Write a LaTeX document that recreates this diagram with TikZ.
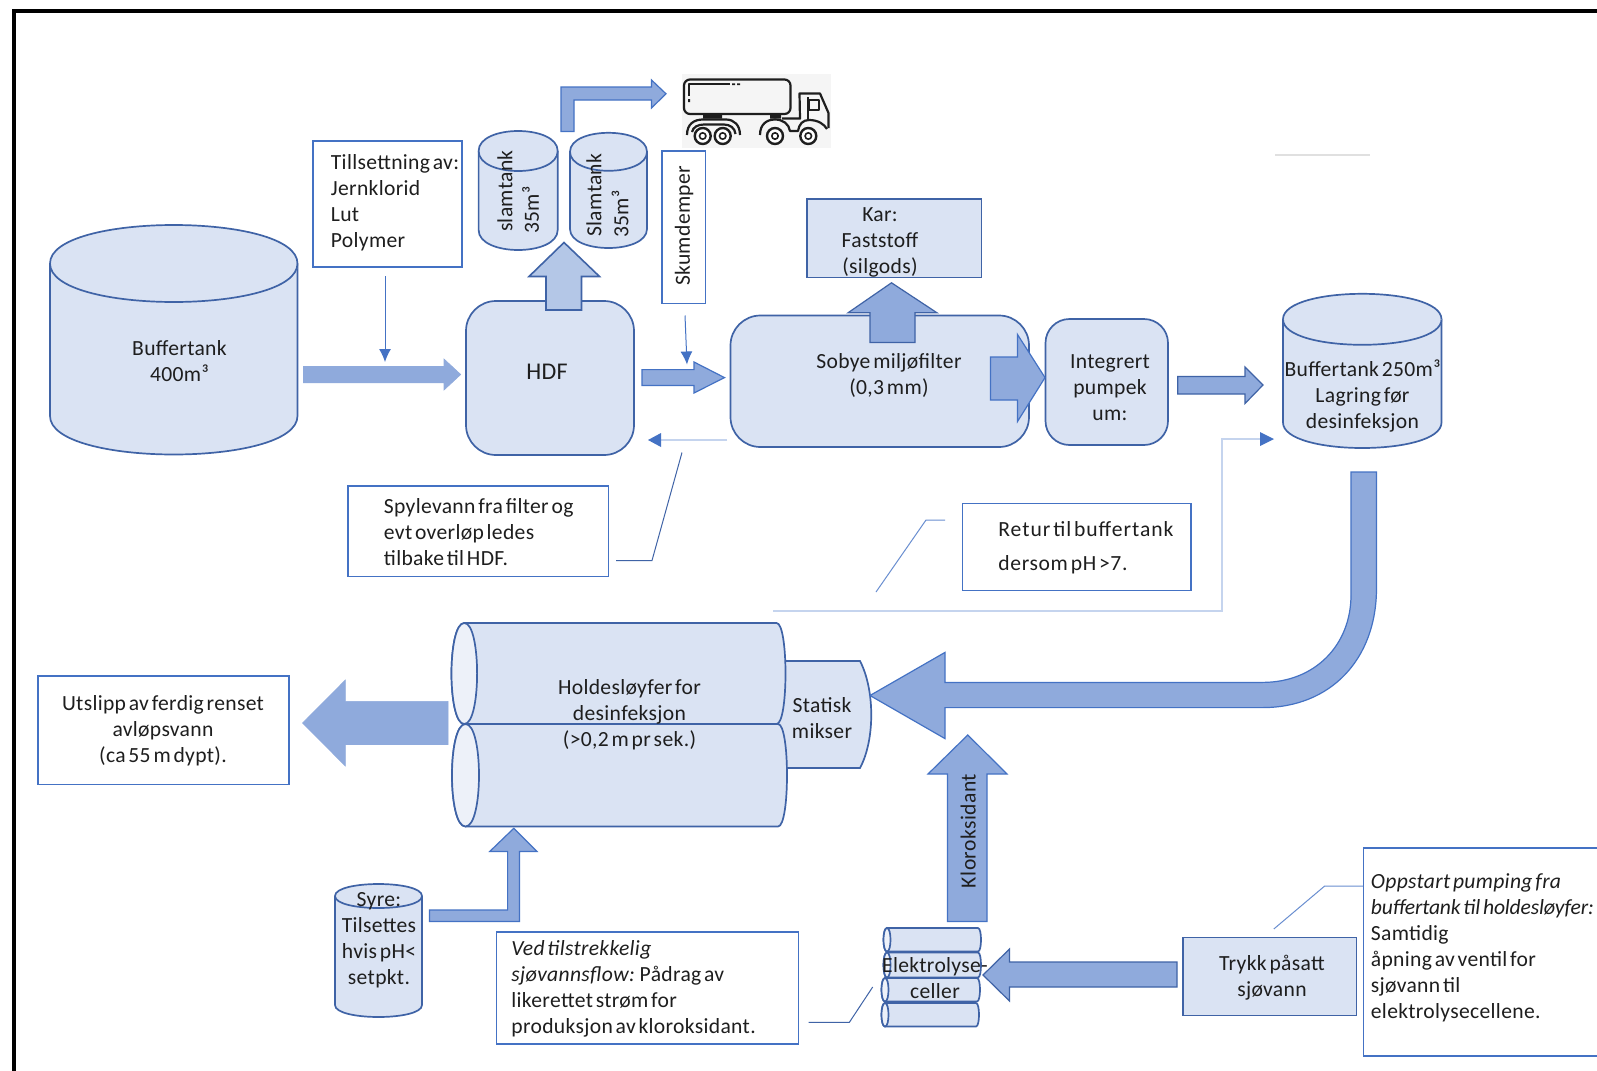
\documentclass[tikz,border=0pt]{standalone}
\usepackage{fontspec}
\setmainfont[LetterSpace=1.5]{Carlito}
\usetikzlibrary{arrows.meta}
\definecolor{boxfill}{HTML}{DAE3F3}
\definecolor{capfill}{HTML}{EDF1F9}
\definecolor{edgeblue}{HTML}{3F63A6}
\definecolor{linkblue}{HTML}{4472C4}
\definecolor{paleblue}{HTML}{C5D4EE}
\definecolor{arrowfill}{HTML}{8FAADC}
\definecolor{arrowlight}{HTML}{B4C7E7}
\definecolor{inkc}{HTML}{1E1E1E}
\newcommand{\fs}{\fontsize{10.8}{13}\selectfont\spaceskip=0.13em\relax}
\newcommand{\pbox}[6]{%
  \pgfmathsetmacro\pw{(#5-#3)*0.5}\pgfmathsetmacro\ph{(#6-#4)*0.5}%
  \pgfmathsetmacro\pcx{(#3+#5)/2}\pgfmathsetmacro\pcy{(#4+#6)/2}%
  \node[#1,minimum width=\pw pt,minimum height=\ph pt,inner sep=0pt] (#2) at (\pcx,\pcy) {};}
% name, x1, x2, ytop, ybot, ry
\newcommand{\vcyl}[6]{%
  \pgfmathsetmacro\ca{#4+#6}\pgfmathsetmacro\cb{#5-#6}%
  \pgfmathsetmacro\cc{#4+#6*7/3}\pgfmathsetmacro\cd{#4-#6/3}\pgfmathsetmacro\ce{#5+#6/3}%
  \pgfmathsetmacro\cx{(#2+#3)/2}%
  \draw[shapeline] (#2,\ca) -- (#2,\cb) .. controls (#2,\ce) and (#3,\ce) .. (#3,\cb) -- (#3,\ca)
     .. controls (#3,\cd) and (#2,\cd) .. (#2,\ca) -- cycle;
  \draw[shapeline] (#2,\ca) .. controls (#2,\cc) and (#3,\cc) .. (#3,\ca);
  \coordinate (#1) at (\cx,\ca);}
% name, xcentre-left, xright, ytop, ybot, rx-left, rx-right
\newcommand{\hcyl}[7]{%
  \pgfmathsetmacro\ha{#2-#6*4/3}\pgfmathsetmacro\hb{#2+#6*4/3}\pgfmathsetmacro\hc{#3+#7*4/3}%
  \pgfmathsetmacro\hy{(#4+#5)/2}%
  \draw[shapeline] (#2,#4) -- (#3,#4) .. controls (\hc,#4) and (\hc,#5) .. (#3,#5) -- (#2,#5)
     .. controls (\ha,#5) and (\ha,#4) .. (#2,#4) -- cycle;
  \draw[shapeline,fill=capfill] (#2,#4) .. controls (\hb,#4) and (\hb,#5) .. (#2,#5)
     .. controls (\ha,#5) and (\ha,#4) .. (#2,#4) -- cycle;
  \coordinate (#1) at (#3,\hy);}
\tikzset{
  x=0.5pt,y=-0.5pt,
  shapeline/.style={draw=edgeblue,fill=boxfill,line width=0.85pt},
  roundbox/.style={shapeline,rounded corners=15pt},
  plainbox/.style={shapeline},
  notebox/.style={draw=linkblue,fill=white,line width=0.85pt},
  blockarrow/.style={draw=linkblue,fill=arrowfill,line width=0.6pt},
  softarrow/.style={draw=arrowfill,fill=arrowfill,line width=0.3pt},
  lightarrow/.style={draw=edgeblue,fill=arrowlight,line width=0.8pt},
  txt/.style={inner sep=0pt,font=\fs,align=center,text=inkc},
  txtl/.style={inner sep=0pt,font=\fs,align=left,anchor=west,text=inkc},
  thinlink/.style={draw=linkblue,line width=0.5pt,-{Latex[length=6.5pt,width=6pt]}},
  palelink/.style={draw=paleblue,line width=1pt},
  leader/.style={draw=edgeblue,line width=0.5pt},
  truckline/.style={draw=inkc,line width=1.1pt,fill=none,line join=round},
}
\begin{document}
\begin{tikzpicture}
\useasboundingbox (0,0) rectangle (1597,1071);
\clip (0,0) rectangle (1597,1071);
\fill[white] (0,0) rectangle (1597,1071);
\draw[black,line width=2pt] (14,1075) -- (14,11) -- (1601,11);
\draw[draw=black!12,line width=0.7pt] (1275,155) -- (1370,155);

% --- tanks and boxes
\vcyl{tankA}{50}{297.5}{225}{454.5}{38.5}
\node[txt] (tankAt) at (179.5,361.5) {Buffertank\\400m³};

\pbox{notebox}{dose}{313}{141}{462}{267}
\node[txtl] (doset) at (330.5,202.5) {Tillsettning av:\\Jernklorid\\Lut\\Polymer};

\pbox{roundbox}{hdf}{466}{301}{634}{455}
\node[txt,font=\fontsize{12}{14}\selectfont] (hdft) at (547,372) {HDF};

\vcyl{slamA}{478.6}{557.7}{131}{250}{20}
\node[txt,rotate=90] (slamAt) at (505,191) {slamtank};
\node[txt,rotate=90] (slamAu) at (530.5,210) {35m³};
\vcyl{slamB}{570}{647}{132.8}{248}{19}
\node[txt,rotate=90] (slamBt) at (594,195) {Slamtank};
\node[txt,rotate=90] (slamBu) at (620,214) {35m³};

\pbox{notebox}{skum}{662}{151}{705.5}{303.5}
\node[txt,rotate=90] (skumt) at (684,226) {Skumdemper};

\pbox{roundbox}{filter}{730.5}{315.5}{1029}{447}
\node[txt] (filtert) at (889,375) {Sobye miljøfilter\\(0,3 mm)};

\pbox{plainbox}{kar}{807}{199}{981.5}{277.5}
\node[txt] (kart) at (880,242) {Kar:\\Faststoff\\(silgods)};

\pbox{roundbox,rounded corners=12pt}{pump}{1045.5}{319}{1168}{445}
\node[txt] (pumpt) at (1110,388) {Integrert\\pumpek\\um:};

\vcyl{tankB}{1283}{1441.5}{293.8}{448}{25.5}
\node[txt] (tankBt) at (1362.5,396) {Buffertank 250m³\\Lagring før\\desinfeksjon};

\pbox{notebox}{spyle}{348}{486}{608.5}{576.5}
\node[txtl] (spylet) at (383.5,532) {Spylevann fra filter og\\evt overløp ledes\\tilbake til HDF.};

\pbox{notebox}{retur}{962.5}{503.5}{1191}{590.5}
\node[txtl,font=\fs\addfontfeature{LetterSpace=4.6}] (returt) at (998,529) {Retur til buffertank};
\node[txtl,font=\fs\addfontfeature{LetterSpace=3}] (returu) at (998,564.5) {dersom pH >7.};

\pbox{notebox}{utslipp}{38}{676}{289}{784.5}
\node[txt] (utslippt) at (163,731) {Utslipp av ferdig renset\\avløpsvann\\(ca 55 m dypt).};

\draw[shapeline] (770,661) -- (860,661) .. controls (875,690) and (875,740) .. (860,768) -- (770,768) -- cycle;
\coordinate (mikser) at (871,715);
\hcyl{holdB}{465.5}{778}{724}{826.5}{13.5}{9}
\hcyl{holdA}{464.3}{776.5}{623}{724}{12.8}{9}
\node[txt] (holdt) at (629.5,715) {Holdesløyfer for\\desinfeksjon\\(>0,2 m pr sek.)};
\node[txt] (miksert) at (822,718) {Statisk\\mikser};

\vcyl{syre}{335}{422}{884}{1017}{12}
\node[txt] (syret) at (379,940) {Syre:\\Tilsettes\\hvis pH<\\setpkt.};

\pbox{notebox}{ved}{496.5}{932}{798.5}{1044}
\node[txtl] (vedt) at (511,989) {\textit{Ved tilstrekkelig}\\\textit{sjøvannsflow:} Pådrag av\\likerettet strøm for\\produksjon av kloroksidant.};

\hcyl{cellA}{887}{978}{928}{951.5}{3.5}{3}
\hcyl{cellB}{887}{978}{952.5}{977.5}{3.5}{3}
\hcyl{cellC}{885}{977}{978}{1001.5}{3.5}{3}
\hcyl{cellD}{885}{976}{1003}{1026.5}{3.5}{3}
\node[txt] (cellt) at (935,978) {Elektrolyse-\\celler};

\pbox{plainbox}{trykk}{1183}{937.5}{1356.5}{1015.5}
\node[txt] (trykkt) at (1272,978) {Trykk påsatt\\sjøvann};

\pbox{notebox}{opp}{1363.5}{848}{1640}{1056}
\node[txtl] (oppt) at (1370.5,947.5) {\textit{Oppstart pumping fra}\\{\addfontfeature{LetterSpace=-0.8}\textit{buffertank til holdesløyfer:}}\\Samtidig\\åpning av ventil for\\sjøvann til\\elektrolysecellene.};

% --- truck
\fill[black!4] (682,74) rectangle (830.5,148);
\draw[truckline,rounded corners=3pt] (684,79.5) rectangle (790.5,114);
\draw[truckline,line width=0.8pt] (689,96) -- (689,84) -- (730,84);
\fill[inkc] (732,83.3) rectangle (735,85) (737,83.3) rectangle (740,85) (688,99) rectangle (690,102);
\fill[inkc] (703,114) rectangle (722,118.5) (770,114) rectangle (781,118.5);
\draw[truckline] (782,118.5) -- (800,118.5) -- (799.5,93.5) -- (820,93.5) -- (828.5,113) -- (828.5,128);
\draw[truckline,line width=0.8pt] (809,100) rectangle (819,110);
\draw[truckline,line width=0.8pt] (808,97) -- (808,120);
\draw[truckline] (687,135) .. controls (687,124) and (694,119.5) .. (703,119.5) -- (726,119.5) .. controls (734,119.5) and (740,125) .. (740,135);
\draw[truckline] (692,132) .. controls (693,127) and (698,124.5) .. (704,124.5) -- (724,124.5) .. controls (730,124.5) and (735,128) .. (735.5,134);
\draw[truckline] (760,135) .. controls (760,124) and (767,119.5) .. (775,119.5) .. controls (783,119.5) and (789,124) .. (790,131) -- (798,131) .. controls (799,124) and (803,120) .. (809,120) .. controls (818,120) and (824,124) .. (827,129);
\foreach \wn/\wx in {wa/702.7,wb/722.7,wc/775,wd/808.3}{
  \draw[draw=inkc,fill=white,line width=1.2pt] (\wx,136) circle[radius=4pt];
  \draw[draw=inkc,line width=0.8pt] (\wx,136) circle[radius=1.6pt];
}

% --- block arrows
\draw[softarrow] (303.5,366.5) -- (444,366.5) -- (444,359) -- (460.7,374.5) -- (444,390) -- (444,382.8) -- (303.5,382.8) -- cycle;
\draw[lightarrow] (546,310) -- (546,276.5) -- (529,276.5) -- (564,242.5) -- (599.5,276.5) -- (581.5,276.5) -- (581.5,310) -- cycle;
\draw[blockarrow] (561,131.5) -- (561,87) -- (651.5,87) -- (651.5,80) -- (666,93.8) -- (651.5,108) -- (651.5,100) -- (574,100) -- (574,131.5) -- cycle;
\draw[blockarrow] (642,369.6) -- (694,369.6) -- (694,362) -- (724.5,377.6) -- (694,393) -- (694,385.5) -- (642,385.5) -- cycle;
\draw[blockarrow,draw=edgeblue] (870,342.4) -- (870,312.8) -- (848,312.8) -- (891.5,282.8) -- (937,312.8) -- (915,312.8) -- (915,342.4) -- cycle;
\draw[blockarrow] (990.5,357) -- (1017.5,357) -- (1017.5,334.5) -- (1045,377.6) -- (1017.5,421.5) -- (1017.5,400) -- (990.5,400) -- cycle;
\draw[blockarrow,draw=edgeblue] (1177.7,376.5) -- (1245,376.5) -- (1245,367) -- (1263,385) -- (1245,403.5) -- (1245,394) -- (1177.7,394) -- cycle;
\draw[blockarrow] (1351,472) -- (1376.5,472) -- (1376.5,588) .. controls (1376.5,660) and (1330,707.6) .. (1262.6,707.6) -- (945,707.6) -- (945,738.6) -- (870,695.5) -- (945,652.4) -- (945,682.4) -- (1262.6,682.4) .. controls (1315,682.4) and (1351,645) .. (1351,595) -- cycle;
\draw[softarrow] (448,701.4) -- (345.4,701.4) -- (345.4,680) -- (302.5,723) -- (345.4,766) -- (345.4,744.5) -- (448,744.5) -- cycle;
\draw[blockarrow] (947.5,921.5) -- (947.5,774) -- (928,774) -- (967.8,735) -- (1007,774) -- (987,774) -- (987,921.5) -- cycle;
\draw[blockarrow,draw=edgeblue] (1177,962) -- (1009.5,962) -- (1009.5,949) -- (983,975) -- (1009.5,1001) -- (1009.5,987) -- (1177,987) -- cycle;
\draw[blockarrow] (429.5,910) -- (507.6,910) -- (507.6,851.4) -- (489.8,851.4) -- (513.8,828.3) -- (537,851.4) -- (519.4,851.4) -- (519.4,921.4) -- (429.5,921.4) -- cycle;
\node[txt,rotate=90,font=\fs\addfontfeature{LetterSpace=2}] (klort) at (968.3,831) {Kloroksidant};

% --- thin connectors
\coordinate (doseOut) at (385,276);
\coordinate (doseIn) at (385,362);
\draw[thinlink] (doseOut) -- (doseIn);
\coordinate (skumOut) at (685,315.5);
\coordinate (skumIn) at (687,364.5);
\draw[thinlink] (skumOut) -- (skumIn);
\coordinate (backA) at (727,440);
\coordinate (backB) at (648,440);
\draw[palelink] (backA) -- (661,440);
\fill[linkblue] (backB) -- (661,433) -- (661,447) -- cycle;
\coordinate (retA) at (773,611);
\coordinate (retB) at (1222,611);
\coordinate (retC) at (1222,439);
\coordinate (retD) at (1274,439);
\draw[palelink] (retA) -- (retB) -- (retC) -- (1262,439);
\fill[linkblue] (retD) -- (1260,432) -- (1260,446) -- cycle;

% --- leader lines
\coordinate (la) at (682,452.5);
\coordinate (lb) at (652,560.5);
\coordinate (lc) at (616,560.5);
\draw[leader] (la) -- (lb) -- (lc);
\coordinate (ld) at (945,520);
\coordinate (le) at (926,520);
\coordinate (lf) at (876,592);
\draw[leader,draw=linkblue!80] (ld) -- (le) -- (lf);
\coordinate (lg) at (872.7,987);
\coordinate (lh) at (849.3,1022.4);
\coordinate (li) at (808.6,1022.4);
\draw[leader] (lg) -- (lh) -- (li);
\coordinate (lj) at (1273.8,929);
\coordinate (lk) at (1324.7,886);
\coordinate (ll) at (1363,886);
\draw[leader,draw=linkblue!80] (lj) -- (lk) -- (ll);
\end{tikzpicture}
\end{document}
